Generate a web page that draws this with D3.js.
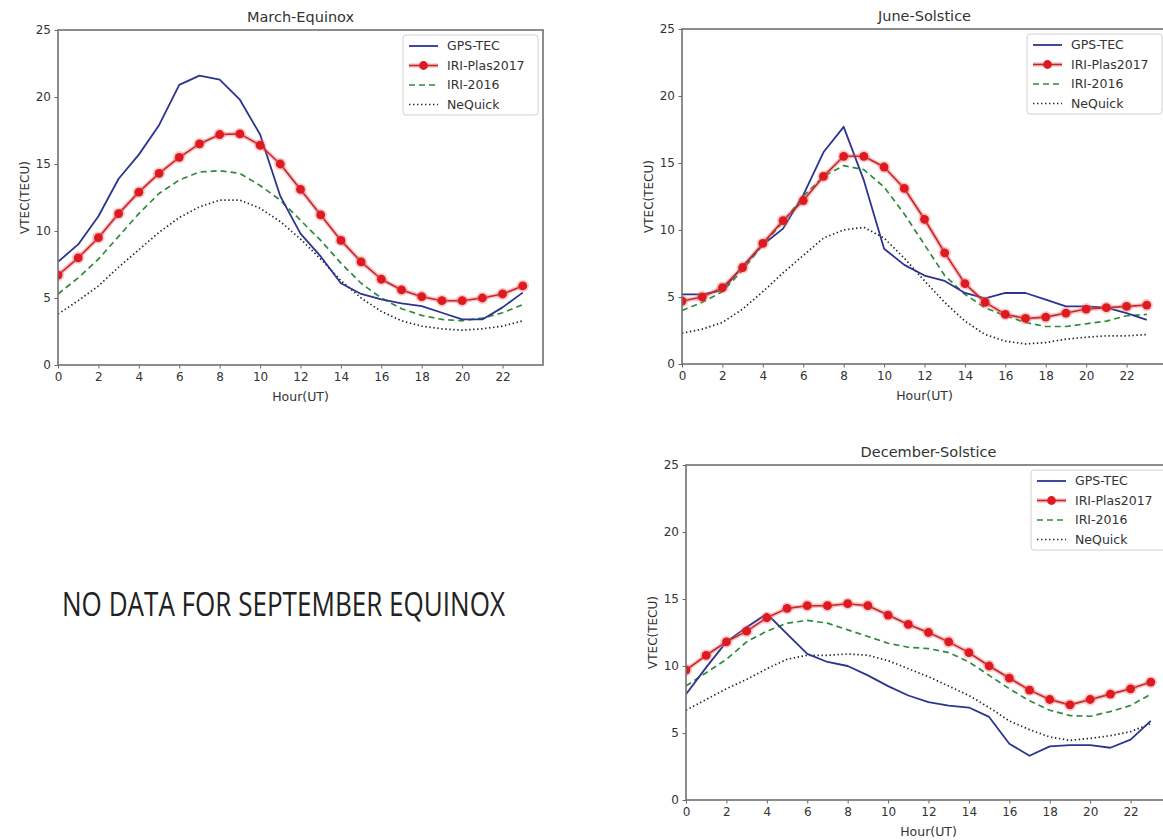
<!DOCTYPE html>
<html>
<head>
<meta charset="utf-8">
<script src="https://cdn.jsdelivr.net/npm/d3@7"></script>
<style>
  html, body { margin: 0; padding: 0; background: #fff; }
  svg { display: block; }
  text { font-family: "DejaVu Sans", sans-serif; fill: #333; }
</style>
</head>
<body>
<svg id="chart" width="1163" height="840"></svg>
<script>
// ---------------- DATA ----------------
const hours = d3.range(0, 24);
const seriesNames = ["GPS-TEC", "IRI-Plas2017", "IRI-2016", "NeQuick"];
const xTicks = [0, 2, 4, 6, 8, 10, 12, 14, 16, 18, 20, 22];
const yTicks = [0, 5, 10, 15, 20, 25];

const marchGPS  = [7.7, 9.0, 11.1, 13.9, 15.7, 17.9, 20.9, 21.6, 21.3, 19.8, 17.2, 12.6, 9.8, 8.1, 6.1, 5.3, 4.9, 4.6, 4.4, 3.9, 3.4, 3.4, 4.3, 5.4];
const marchPlas = [6.7, 8.0, 9.5, 11.3, 12.9, 14.3, 15.5, 16.5, 17.2, 17.25, 16.4, 15.0, 13.1, 11.2, 9.3, 7.7, 6.4, 5.6, 5.1, 4.8, 4.8, 5.0, 5.3, 5.9];
const marchIRI  = [5.3, 6.5, 7.9, 9.6, 11.3, 12.8, 13.8, 14.4, 14.5, 14.3, 13.4, 12.3, 10.8, 9.3, 7.6, 6.1, 5.0, 4.2, 3.7, 3.4, 3.3, 3.5, 3.9, 4.5];
const marchNeQ  = [3.8, 4.8, 5.9, 7.3, 8.6, 9.9, 11.0, 11.8, 12.3, 12.3, 11.7, 10.7, 9.4, 7.9, 6.3, 5.0, 4.0, 3.3, 2.9, 2.7, 2.6, 2.7, 2.9, 3.3];

const juneGPS  = [5.2, 5.2, 5.5, 7.3, 8.9, 10.1, 12.6, 15.8, 17.7, 13.7, 8.6, 7.4, 6.6, 6.2, 5.3, 4.9, 5.3, 5.3, 4.8, 4.3, 4.3, 4.2, 3.8, 3.3];
const junePlas = [4.7, 5.0, 5.7, 7.2, 9.0, 10.7, 12.2, 14.0, 15.5, 15.5, 14.7, 13.1, 10.8, 8.3, 6.0, 4.6, 3.7, 3.4, 3.5, 3.8, 4.1, 4.2, 4.3, 4.4];
const juneIRI  = [4.0, 4.6, 5.4, 7.0, 8.9, 10.6, 12.5, 14.0, 14.8, 14.5, 13.2, 11.2, 8.9, 6.6, 5.2, 4.2, 3.6, 3.1, 2.8, 2.8, 3.0, 3.2, 3.6, 3.7];
const juneNeQ  = [2.3, 2.6, 3.1, 4.1, 5.4, 6.8, 8.1, 9.4, 10.0, 10.2, 9.4, 7.9, 6.2, 4.6, 3.2, 2.2, 1.7, 1.5, 1.6, 1.85, 2.0, 2.1, 2.1, 2.2];

const decGPS  = [7.9, 9.9, 11.8, 12.9, 13.9, 12.4, 10.9, 10.3, 10.0, 9.3, 8.5, 7.8, 7.3, 7.05, 6.9, 6.2, 4.2, 3.3, 4.0, 4.1, 4.1, 3.9, 4.5, 5.9];
const decPlas = [9.7, 10.8, 11.8, 12.6, 13.6, 14.3, 14.5, 14.5, 14.65, 14.5, 13.8, 13.1, 12.5, 11.8, 11.0, 10.0, 9.1, 8.2, 7.5, 7.1, 7.5, 7.9, 8.3, 8.8];
const decIRI  = [8.5, 9.5, 10.5, 11.8, 12.6, 13.2, 13.4, 13.2, 12.7, 12.2, 11.7, 11.4, 11.3, 11.0, 10.3, 9.3, 8.3, 7.4, 6.7, 6.3, 6.25, 6.6, 7.05, 7.9];
const decNeQ  = [6.7, 7.5, 8.3, 9.0, 9.8, 10.5, 10.8, 10.8, 10.9, 10.8, 10.4, 9.8, 9.2, 8.5, 7.8, 6.9, 5.9, 5.25, 4.7, 4.45, 4.6, 4.8, 5.1, 5.7];

const panelTitles = ["March-Equinox", "June-Solstice", "December-Solstice"];
const noDataText = "NO DATA FOR SEPTEMBER EQUINOX";

// ---------------- LAYOUT ----------------
const panels = [
  { title: panelTitles[0], left: 58,  top: 30,  series: [marchGPS, marchPlas, marchIRI, marchNeQ] },
  { title: panelTitles[1], left: 682, top: 29,  series: [juneGPS, junePlas, juneIRI, juneNeQ] },
  { title: panelTitles[2], left: 686, top: 465, series: [decGPS, decPlas, decIRI, decNeQ] }
];
const PW = 485, PH = 335;

const svg = d3.select("#chart");

const styles = [
  { color: "#2b3590", width: 1.8, dash: null },
  { color: "#c0282c", width: 1.6, dash: null },
  { color: "#2f8a3c", width: 1.7, dash: "6,4" },
  { color: "#222",    width: 1.7, dash: "1.4,2.6" }
];

panels.forEach(p => {
  const x = d3.scaleLinear().domain([0, 24]).range([p.left, p.left + PW]);
  const y = d3.scaleLinear().domain([0, 25]).range([p.top + PH, p.top]);
  const g = svg.append("g");

  const clipId = "clip" + p.left + "_" + p.top;
  svg.append("clipPath").attr("id", clipId)
    .append("rect").attr("x", p.left).attr("y", p.top).attr("width", PW).attr("height", PH);

  const plot = g.append("g").attr("clip-path", `url(#${clipId})`);
  const line = d3.line().x((d, i) => x(hours[i])).y(d => y(d));

  const order = [3, 2, 0, 1];
  order.forEach(k => {
    const s = styles[k];
    const data = p.series[k];
    if (k === 1) {
      plot.append("path").datum(data).attr("d", line)
        .attr("fill", "none").attr("stroke", "#ee5555").attr("stroke-opacity", 0.35)
        .attr("stroke-width", 4.5);
    }
    plot.append("path").datum(data).attr("d", line)
      .attr("fill", "none").attr("stroke", s.color).attr("stroke-width", s.width)
      .attr("stroke-dasharray", s.dash).attr("stroke-linejoin", "round");
    if (k === 1) {
      plot.selectAll(null).data(data).enter().append("circle")
        .attr("cx", (d, i) => x(hours[i])).attr("cy", d => y(d)).attr("r", 6.2)
        .attr("fill", "#f07070").attr("fill-opacity", 0.35);
      plot.selectAll(null).data(data).enter().append("circle")
        .attr("cx", (d, i) => x(hours[i])).attr("cy", d => y(d)).attr("r", 4.4)
        .attr("fill", "#dc1a1f");
    }
  });

  const xAxis = d3.axisBottom(x).tickValues(xTicks).tickSize(3.5).tickPadding(4).tickFormat(d3.format("d"));
  const yAxis = d3.axisLeft(y).tickValues(yTicks).tickSize(3.5).tickPadding(3.5).tickFormat(d3.format("d"));
  const gx = g.append("g").attr("transform", `translate(0,${p.top + PH})`).call(xAxis);
  const gy = g.append("g").attr("transform", `translate(${p.left},0)`).call(yAxis);
  [gx, gy].forEach(a => {
    a.select(".domain").remove();
    a.selectAll(".tick line").attr("stroke", "#666").attr("stroke-width", 1);
    a.selectAll(".tick text").attr("font-size", 12).attr("fill", "#333")
      .attr("font-family", "DejaVu Sans");
  });

  g.append("rect").attr("x", p.left).attr("y", p.top).attr("width", PW).attr("height", PH)
    .attr("fill", "none").attr("stroke", "#707070").attr("stroke-width", 1.6);

  g.append("text").attr("x", p.left + PW / 2).attr("y", p.top - 8)
    .attr("text-anchor", "middle").attr("font-size", 14.5).text(p.title);
  g.append("text").attr("x", p.left + PW / 2).attr("y", p.top + PH + 36)
    .attr("text-anchor", "middle").attr("font-size", 12.5).text("Hour(UT)");
  g.append("text").attr("transform", `translate(${p.left - 29},${p.top + PH / 2}) rotate(-90)`)
    .attr("text-anchor", "middle").attr("font-size", 12).text("VTEC(TECU)");

  const lx = p.left + PW - 140, ly = p.top + 5;
  const lg = g.append("g");
  lg.append("rect").attr("x", lx).attr("y", ly).attr("width", 135).attr("height", 80)
    .attr("rx", 3).attr("fill", "#fff").attr("fill-opacity", 0.85)
    .attr("stroke", "#d0d0d0").attr("stroke-width", 1);
  seriesNames.forEach((name, k) => {
    const yy = ly + 11 + k * 19.5;
    const s = styles[k];
    if (k === 1) {
      lg.append("line").attr("x1", lx + 6).attr("x2", lx + 35).attr("y1", yy).attr("y2", yy)
        .attr("stroke", "#ee5555").attr("stroke-opacity", 0.35).attr("stroke-width", 4.5);
    }
    lg.append("line").attr("x1", lx + 6).attr("x2", lx + 35).attr("y1", yy).attr("y2", yy)
      .attr("stroke", s.color).attr("stroke-width", s.width).attr("stroke-dasharray", s.dash);
    if (k === 1) {
      lg.append("circle").attr("cx", lx + 20.5).attr("cy", yy).attr("r", 4.4).attr("fill", "#dc1a1f");
    }
    lg.append("text").attr("x", lx + 44).attr("y", yy).attr("dy", "0.35em")
      .attr("font-size", 12.5).text(name);
  });
});

svg.append("text").attr("x", 62).attr("y", 616)
  .style("font-family", "'Liberation Sans Narrow', 'Open Sans', sans-serif")
  .attr("font-size", 33).style("fill", "#222")
  .attr("textLength", 443).attr("lengthAdjust", "spacingAndGlyphs")
  .text(noDataText);
</script>
</body>
</html>
